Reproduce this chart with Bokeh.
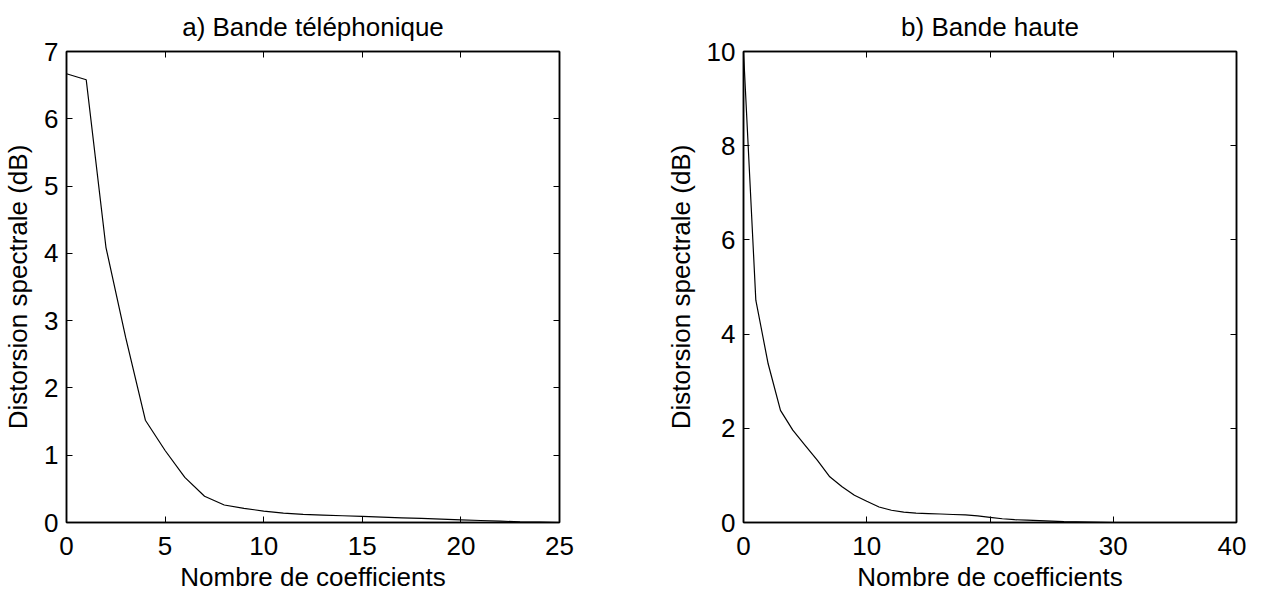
from bokeh.plotting import figure
from bokeh.models import Range1d, LinearAxis, FixedTicker, CustomJSTickFormatter
from bokeh.layouts import row
from bokeh.embed import file_html
from bokeh.resources import INLINE

# Panel a) Bande téléphonique
coef_a = list(range(0, 26))
dist_a = [6.67, 6.58, 4.09, 2.75, 1.52, 1.07, 0.67, 0.39, 0.26, 0.21, 0.17, 0.14, 0.12,
          0.11, 0.10, 0.09, 0.08, 0.07, 0.06, 0.05, 0.04, 0.03, 0.02, 0.01, 0.005, 0.0]
xticks_a = [0, 5, 10, 15, 20, 25]
yticks_a = [0, 1, 2, 3, 4, 5, 6, 7]

# Panel b) Bande haute
coef_b = list(range(0, 41))
dist_b = [10.0, 4.72, 3.37, 2.38, 1.96, 1.64, 1.32, 0.97, 0.76, 0.58, 0.45, 0.33, 0.26,
          0.22, 0.20, 0.19, 0.18, 0.17, 0.16, 0.14, 0.11, 0.08, 0.06, 0.05, 0.04, 0.03,
          0.02, 0.015, 0.01, 0.005, 0.0, 0.0, 0.0, 0.0, 0.0, 0.0, 0.0, 0.0, 0.0, 0.0, 0.0]
xticks_b = [0, 10, 20, 30, 40]
yticks_b = [0, 2, 4, 6, 8, 10]

FONT = "Liberation Sans"
FS = "26px"


def make_panel(title, xs, ys, xr, yr, xt, yt, left_border, right_border):
    p = figure(title=title, output_backend="svg", toolbar_location=None,
               frame_width=493, frame_height=471,
               min_border_left=left_border, min_border_right=right_border,
               min_border_top=51, min_border_bottom=62,
               x_range=Range1d(*xr), y_range=Range1d(*yr),
               x_axis_label="Nombre de coefficients",
               y_axis_label="Distorsion spectrale (dB)")
    p.title.align = "center"
    p.title.text_font = FONT
    p.title.text_font_size = FS
    p.title.text_font_style = "normal"
    p.title.text_color = "black"
    p.title.standoff = 19
    p.xgrid.visible = False
    p.ygrid.visible = False
    p.outline_line_color = "black"
    p.outline_line_width = 1.5
    p.background_fill_color = "white"
    p.border_fill_color = "white"

    for ax, ticks in ((p.xaxis[0], xt), (p.yaxis[0], yt)):
        ax.ticker = FixedTicker(ticks=ticks)
        ax.minor_tick_line_color = None
        ax.major_tick_in = 6
        ax.major_tick_out = 0
        ax.major_tick_line_color = "black"
        ax.axis_line_color = "black"
        ax.axis_line_width = 1.5
        ax.major_label_text_font = FONT
        ax.major_label_text_font_size = FS
        ax.major_label_text_color = "black"
        ax.axis_label_text_font = FONT
        ax.axis_label_text_font_size = FS
        ax.axis_label_text_font_style = "normal"
        ax.axis_label_text_color = "black"
    p.xaxis[0].major_label_standoff = 14
    p.xaxis[0].axis_label_standoff = 4
    p.yaxis[0].major_label_standoff = 8
    p.yaxis[0].axis_label_standoff = 8

    blank = CustomJSTickFormatter(code="return ''")
    for loc, ticks in (("above", xt), ("right", yt)):
        ax = LinearAxis(ticker=FixedTicker(ticks=ticks), formatter=blank)
        ax.minor_tick_line_color = None
        ax.major_tick_in = 6
        ax.major_tick_out = 0
        ax.axis_line_color = "black"
        ax.axis_line_width = 1.5
        ax.major_label_standoff = 0
        ax.major_label_text_font_size = "1px"
        p.add_layout(ax, loc)

    p.line(xs, ys, line_color="black", line_width=1.2)
    return p


pa = make_panel("a) Bande téléphonique", coef_a, dist_a, (0, 25), (0, 7),
                xticks_a, yticks_a, 66, 50)
pb = make_panel("b) Bande haute", coef_b, dist_b, (0, 40), (0, 10),
                xticks_b, yticks_b, 134, 10)

layout = row(pa, pb)
open("out.html", "w").write(file_html(layout, INLINE))
